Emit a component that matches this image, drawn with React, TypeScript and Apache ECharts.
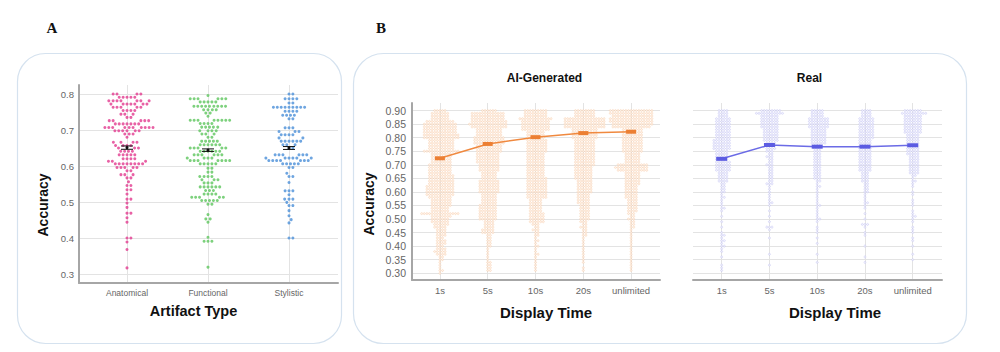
import React, { useEffect, useRef } from 'react';
import * as echarts from 'echarts';

// ---------- Panel A data: [accuracy, number of participants at that accuracy] ----------
const CATS_A = ['Anatomical', 'Functional', 'Stylistic'];
const ANATOMICAL = [
  [0.800, 4], [0.791, 5], [0.781, 7], [0.772, 7], [0.763, 5], [0.754, 4], [0.744, 3], [0.735, 2],
  [0.726, 5], [0.717, 7], [0.707, 10], [0.698, 6], [0.689, 3], [0.680, 1], [0.666, 4], [0.657, 4],
  [0.650, 3], [0.641, 4], [0.631, 5], [0.620, 4], [0.613, 3], [0.606, 8], [0.596, 5], [0.587, 2],
  [0.576, 3], [0.567, 2], [0.556, 1], [0.546, 2], [0.534, 2], [0.522, 1], [0.508, 2], [0.497, 1],
  [0.485, 1], [0.469, 2], [0.456, 1], [0.444, 1], [0.400, 2], [0.389, 1], [0.368, 1], [0.317, 1],
];
const FUNCTIONAL = [
  [0.796, 1], [0.787, 6], [0.778, 5], [0.766, 9], [0.756, 4], [0.747, 2], [0.738, 1], [0.727, 8],
  [0.718, 4], [0.708, 5], [0.698, 4], [0.689, 3], [0.680, 2], [0.669, 5], [0.659, 6], [0.650, 5],
  [0.641, 6], [0.631, 6], [0.622, 4], [0.615, 7], [0.606, 5], [0.594, 2], [0.583, 2], [0.571, 4],
  [0.562, 3], [0.553, 3], [0.542, 6], [0.532, 3], [0.522, 4], [0.513, 5], [0.504, 5], [0.494, 2],
  [0.465, 1], [0.453, 2], [0.444, 1], [0.402, 1], [0.391, 3], [0.319, 1],
];
const STYLISTIC = [
  [0.800, 2], [0.787, 4], [0.775, 2], [0.763, 9], [0.752, 4], [0.741, 4], [0.731, 2], [0.706, 3],
  [0.696, 3], [0.687, 4], [0.678, 2], [0.669, 6], [0.659, 3], [0.650, 2], [0.631, 6], [0.622, 6],
  [0.615, 7], [0.606, 5], [0.596, 2], [0.580, 1], [0.571, 2], [0.554, 1], [0.531, 3], [0.520, 1],
  [0.508, 3], [0.499, 1], [0.490, 2], [0.476, 1], [0.462, 1], [0.451, 1], [0.442, 1], [0.400, 2],
];
const MEANS_A = [0.651, 0.644, 0.650];
const SE_A = [0.0046, 0.0035, 0.004];
const COLORS_A = ['#e23a8e', '#5cc65c', '#4a8ed8'];

// ---------- Panel B data: participant counts per accuracy level ----------
const TIMES = ['1s', '5s', '10s', '20s', 'unlimited'];
const LEVELS_B = [
  0.90, 0.89, 0.88, 0.87, 0.86, 0.85, 0.84, 0.83, 0.82, 0.81,
  0.80, 0.79, 0.78, 0.77, 0.76, 0.75, 0.74, 0.73, 0.72, 0.71,
  0.70, 0.69, 0.68, 0.67, 0.66, 0.65, 0.64, 0.63, 0.62, 0.61,
  0.60, 0.59, 0.58, 0.57, 0.56, 0.55, 0.54, 0.53, 0.52, 0.51,
  0.50, 0.49, 0.48, 0.47, 0.46, 0.45, 0.44, 0.43, 0.42, 0.41,
  0.40, 0.39, 0.38, 0.37, 0.36, 0.35, 0.34, 0.33, 0.32, 0.31,
  0.30,
];
const AI_1S = [
  5, 7, 7, 7, 11, 13, 13, 13, 13, 14,
  14, 10, 10, 10, 10, 14, 8, 8, 8, 8,
  9, 9, 9, 9, 10, 10, 10, 10, 11, 11,
  11, 11, 9, 8, 8, 8, 7, 7, 15, 8,
  7, 7, 6, 5, 4, 4, 4, 3, 4, 4,
  3, 4, 5, 4, 2, 2, 1, 1, 1, 2,
  1,
];
const AI_5S = [
  6, 13, 13, 13, 14, 15, 14, 10, 10, 10,
  12, 12, 12, 10, 10, 10, 9, 9, 9, 9,
  8, 8, 8, 6, 6, 6, 8, 8, 8, 8,
  8, 6, 6, 6, 6, 7, 7, 7, 7, 7,
  7, 4, 4, 4, 5, 5, 2, 2, 2, 2,
  2, 1, 1, 1, 1, 1, 2, 2, 2, 2,
  0,
];
const AI_10S = [
  9, 9, 9, 13, 11, 11, 11, 11, 7, 7,
  7, 8, 8, 8, 8, 8, 7, 7, 7, 7,
  7, 7, 7, 7, 7, 8, 8, 8, 8, 8,
  8, 8, 8, 5, 5, 5, 5, 5, 6, 6,
  6, 6, 3, 2, 3, 2, 2, 1, 2, 1,
  2, 1, 1, 2, 1, 1, 1, 1, 1, 1,
  0,
];
const AI_20S = [
  8, 8, 8, 16, 16, 16, 16, 10, 10, 10,
  10, 8, 8, 8, 8, 8, 8, 8, 8, 8,
  8, 7, 7, 7, 7, 7, 6, 6, 6, 6,
  6, 5, 5, 5, 5, 4, 4, 4, 4, 4,
  4, 3, 2, 3, 2, 2, 2, 1, 1, 1,
  1, 1, 1, 1, 1, 1, 1, 0, 1, 1,
  0,
];
const AI_UNL = [
  17, 17, 16, 17, 17, 16, 15, 8, 8, 8,
  8, 8, 8, 8, 8, 8, 6, 6, 6, 6,
  12, 13, 12, 6, 6, 6, 6, 6, 5, 5,
  5, 5, 5, 4, 4, 4, 4, 4, 3, 2,
  3, 2, 2, 2, 1, 1, 1, 1, 1, 1,
  1, 1, 1, 1, 1, 1, 1, 1, 1, 1,
  0,
];
const REAL_1S = [
  4, 4, 4, 6, 6, 6, 6, 6, 6, 6,
  6, 7, 7, 7, 7, 5, 5, 5, 5, 6,
  6, 6, 6, 4, 4, 4, 4, 2, 2, 2,
  2, 1, 2, 1, 1, 1, 2, 1, 0, 1,
  0, 1, 0, 1, 0, 1, 2, 1, 2, 1,
  2, 1, 1, 0, 1, 0, 0, 1, 1, 1,
  0,
];
const REAL_5S = [
  8, 11, 7, 7, 7, 7, 7, 6, 6, 6,
  6, 6, 4, 4, 4, 3, 2, 3, 2, 2,
  3, 2, 2, 2, 2, 2, 2, 3, 1, 1,
  1, 1, 1, 1, 2, 1, 0, 1, 0, 1,
  0, 1, 0, 3, 1, 0, 0, 1, 0, 0,
  0, 0, 0, 1, 0, 0, 0, 1, 0, 0,
  0,
];
const REAL_10S = [
  5, 5, 5, 8, 8, 8, 8, 6, 6, 6,
  6, 6, 6, 3, 3, 3, 3, 3, 3, 3,
  3, 3, 3, 3, 3, 3, 2, 1, 2, 1,
  1, 1, 1, 1, 1, 2, 1, 1, 1, 1,
  2, 1, 0, 1, 1, 1, 0, 1, 0, 1,
  0, 0, 0, 1, 0, 0, 1, 0, 0, 0,
  0,
];
const REAL_20S = [
  4, 4, 4, 6, 6, 6, 6, 6, 6, 6,
  6, 5, 5, 5, 5, 5, 5, 5, 5, 5,
  5, 5, 5, 3, 3, 3, 3, 2, 2, 2,
  2, 1, 1, 1, 2, 1, 1, 0, 1, 0,
  1, 0, 3, 1, 0, 1, 1, 0, 0, 0,
  1, 0, 0, 0, 1, 0, 1, 0, 0, 0,
  0,
];
const REAL_UNL = [
  7, 10, 7, 7, 7, 7, 7, 7, 7, 5,
  5, 5, 5, 5, 5, 5, 5, 4, 4, 4,
  4, 4, 4, 4, 2, 1, 2, 1, 1, 0,
  1, 1, 0, 1, 1, 1, 0, 1, 1, 2,
  1, 1, 0, 1, 1, 1, 0, 1, 1, 0,
  1, 0, 0, 1, 0, 1, 0, 0, 0, 0,
  0,
];
const AI_MEANS = [0.724, 0.777, 0.802, 0.817, 0.822];
const REAL_MEANS = [0.722, 0.773, 0.767, 0.767, 0.772];

const AI_COLUMNS = [AI_1S, AI_5S, AI_10S, AI_20S, AI_UNL];
const REAL_COLUMNS = [REAL_1S, REAL_5S, REAL_10S, REAL_20S, REAL_UNL];

// ---------- helpers ----------
function expandPairs(pairs: number[][]): number[] {
  const out: number[] = [];
  for (const [v, c] of pairs) for (let i = 0; i < c; i++) out.push(v);
  return out.sort((a, b) => a - b);
}
function expandCounts(counts: number[]): number[] {
  const out: number[] = [];
  counts.forEach((c, i) => {
    for (let k = 0; k < c; k++) out.push(LEVELS_B[i]);
  });
  return out.sort((a, b) => a - b);
}
// beeswarm layout: horizontal pixel offsets so that markers do not overlap
function swarmOffsets(vals: number[], pxPerUnit: number, d: number): number[] {
  const placed: { x: number; y: number }[] = [];
  const offs: number[] = [];
  for (const v of vals) {
    const y = v * pxPerUnit;
    const neigh = placed.filter((p) => Math.abs(p.y - y) < d);
    const cands = [0];
    for (const p of neigh) {
      const dy = y - p.y;
      const dx = Math.sqrt(Math.max(0, d * d - dy * dy));
      cands.push(p.x + dx, p.x - dx);
    }
    cands.sort((a, b) => Math.abs(a) - Math.abs(b) || b - a);
    let chosen = 0;
    for (const c of cands) {
      let ok = true;
      for (const p of neigh) {
        if ((p.x - c) * (p.x - c) + (p.y - y) * (p.y - y) < d * d - 1e-6) {
          ok = false;
          break;
        }
      }
      if (ok) {
        chosen = c;
        break;
      }
    }
    placed.push({ x: chosen, y });
    offs.push(chosen);
  }
  return offs;
}
function swarmData(cat: number, vals: number[], pxPerUnit: number, d: number) {
  const offs = swarmOffsets(vals, pxPerUnit, d);
  return vals.map((v, i) => ({ value: [cat, v], symbolOffset: [offs[i], 0] }));
}

const FONT = "'Liberation Sans', Arial, Helvetica, sans-serif";
const AX = '#a6a6a6';
const GRID_C = '#e3e3e3';

const A_MIN = 0.275, A_MAX = 0.825, A_H = 198;
const B_MIN = 0.275, B_MAX = 0.928, B_H = 177;

function frameX(grid: number) {
  return {
    gridIndex: grid, type: 'value', min: 0, max: 1,
    axisLine: { show: true, onZero: false, lineStyle: { color: AX, width: 2 } },
    axisTick: { show: false }, axisLabel: { show: false }, splitLine: { show: false },
  };
}
function dataX(grid: number, cats: string[], fontSize: number) {
  return {
    gridIndex: grid, type: 'category', data: cats, boundaryGap: true,
    axisLine: { show: false }, axisTick: { show: false },
    axisLabel: { color: '#666', fontSize, fontFamily: FONT, margin: 5, interval: 0, hideOverlap: false },
    splitLine: { show: true, interval: 0, alignWithLabel: true, lineStyle: { color: GRID_C, width: 1 } },
  };
}

export default function App() {
  const ref = useRef<HTMLDivElement>(null);
  useEffect(() => {
    if (!ref.current) return;
    const chart = echarts.init(ref.current, undefined, { renderer: 'svg' });

    const series: any[] = [];
    [ANATOMICAL, FUNCTIONAL, STYLISTIC].forEach((pairs, i) => {
      series.push({
        type: 'scatter', xAxisIndex: 1, yAxisIndex: 1, symbol: 'circle', symbolSize: 3,
        large: false, silent: true,
        itemStyle: { color: COLORS_A[i] },
        data: swarmData(i, expandPairs(pairs), A_H / (A_MAX - A_MIN), 3.9),
      });
    });
    series.push({
      type: 'custom', xAxisIndex: 1, yAxisIndex: 1, silent: true, z: 10,
      data: MEANS_A.map((m, i) => [i, m, SE_A[i]]),
      renderItem: (_p: any, api: any) => {
        const x = api.value(0), m = api.value(1), se = api.value(2);
        const c = api.coord([x, m]);
        const t = api.coord([x, m + se]);
        const b = api.coord([x, m - se]);
        const st = { stroke: '#111', lineWidth: 1 };
        return {
          type: 'group',
          children: [
            { type: 'line', shape: { x1: c[0] - 6, y1: t[1], x2: c[0] + 6, y2: t[1] }, style: st },
            { type: 'line', shape: { x1: c[0] - 6, y1: b[1], x2: c[0] + 6, y2: b[1] }, style: st },
            { type: 'line', shape: { x1: c[0], y1: t[1], x2: c[0], y2: b[1] }, style: st },
            { type: 'circle', shape: { cx: c[0], cy: c[1], r: 1.5 }, style: { fill: '#111' } },
          ],
        };
      },
    });

    const bPx = B_H / (B_MAX - B_MIN);
    AI_COLUMNS.forEach((counts, i) => {
      series.push({
        type: 'scatter', xAxisIndex: 3, yAxisIndex: 3, symbol: 'circle', symbolSize: 2.1,
        large: false, silent: true,
        itemStyle: { color: '#fff1e6', borderColor: '#f6c4a0', borderWidth: 0.5 },
        data: swarmData(i, expandCounts(counts), bPx, 2.6),
      });
    });
    series.push({
      type: 'line', xAxisIndex: 3, yAxisIndex: 3, data: AI_MEANS, silent: true, z: 10,
      symbol: 'rect', symbolSize: [10, 4], showSymbol: true,
      lineStyle: { color: '#f0893f', width: 1.5 }, itemStyle: { color: '#ec7f33' },
    });
    REAL_COLUMNS.forEach((counts, i) => {
      series.push({
        type: 'scatter', xAxisIndex: 5, yAxisIndex: 5, symbol: 'circle', symbolSize: 2.1,
        large: false, silent: true,
        itemStyle: { color: '#f1f1fd', borderColor: '#b9b9f0', borderWidth: 0.5 },
        data: swarmData(i, expandCounts(counts), bPx, 2.6),
      });
    });
    series.push({
      type: 'line', xAxisIndex: 5, yAxisIndex: 5, data: REAL_MEANS, silent: true, z: 10,
      symbol: 'rect', symbolSize: [11, 4], showSymbol: true,
      lineStyle: { color: '#6b6be6', width: 1.5 }, itemStyle: { color: '#5c5ce2' },
    });

    const txt = (x: number, y: number, text: string, size: number, extra: any = {}) => ({
      type: 'text', x, y, silent: true, ...extra,
      style: {
        text, fill: '#111', fontSize: size, fontWeight: 'bold', fontFamily: FONT,
        textAlign: 'center', textVerticalAlign: 'middle', ...(extra.style || {}),
      },
    });

    chart.setOption({
      animation: false,
      backgroundColor: '#ffffff',
      grid: [
        { left: 79, top: 85, width: 259, height: A_H, outerBoundsMode: 'none' },
        { left: 86.5, top: 85, width: 243, height: A_H, outerBoundsMode: 'none' },
        { left: 412, top: 103, width: 248, height: B_H, outerBoundsMode: 'none' },
        { left: 416, top: 103, width: 239, height: B_H, outerBoundsMode: 'none' },
        { left: 693, top: 103, width: 249, height: B_H, outerBoundsMode: 'none' },
        { left: 697.8, top: 103, width: 238.8, height: B_H, outerBoundsMode: 'none' },
      ],
      xAxis: [
        frameX(0), dataX(1, CATS_A, 8.5),
        frameX(2), dataX(3, TIMES, 9.5),
        frameX(4), dataX(5, TIMES, 9.5),
      ],
      yAxis: [
        {
          gridIndex: 0, type: 'value', min: A_MIN, max: A_MAX, minInterval: 0.1, maxInterval: 0.1,
          axisLine: { show: true, onZero: false, lineStyle: { color: AX, width: 2 } },
          axisTick: { show: false },
          axisLabel: {
            color: '#666', fontSize: 9.5, fontFamily: FONT, margin: 5,
            showMinLabel: false, showMaxLabel: false,
            formatter: (v: number) => v.toFixed(1),
          },
          splitLine: { show: true, showMinLine: false, showMaxLine: false, lineStyle: { color: GRID_C } },
        },
        { gridIndex: 1, type: 'value', min: A_MIN, max: A_MAX, show: false },
        {
          gridIndex: 2, type: 'value', min: B_MIN, max: B_MAX, minInterval: 0.05, maxInterval: 0.05,
          axisLine: { show: true, onZero: false, lineStyle: { color: AX, width: 2 } },
          axisTick: { show: false },
          axisLabel: {
            color: '#666', fontSize: 10.5, fontFamily: FONT, margin: 6,
            showMinLabel: false, showMaxLabel: false,
            formatter: (v: number) => v.toFixed(2),
          },
          splitLine: { show: true, showMinLine: false, showMaxLine: false, lineStyle: { color: GRID_C } },
        },
        { gridIndex: 3, type: 'value', min: B_MIN, max: B_MAX, show: false },
        {
          gridIndex: 4, type: 'value', min: B_MIN, max: B_MAX, minInterval: 0.05, maxInterval: 0.05,
          axisLine: { show: false }, axisTick: { show: false }, axisLabel: { show: false },
          splitLine: { show: true, showMinLine: false, showMaxLine: false, lineStyle: { color: GRID_C } },
        },
        { gridIndex: 5, type: 'value', min: B_MIN, max: B_MAX, show: false },
      ],
      graphic: [
        {
          type: 'rect', z: -10, silent: true,
          shape: { x: 17.5, y: 53.5, width: 324, height: 290, r: 28 },
          style: { fill: '#ffffff', stroke: '#d5e2ef', lineWidth: 1.2 },
        },
        {
          type: 'rect', z: -10, silent: true,
          shape: { x: 353.5, y: 53.5, width: 613, height: 290, r: 30 },
          style: { fill: '#ffffff', stroke: '#d5e2ef', lineWidth: 1.2 },
        },
        txt(52, 28, 'A', 15, { style: { fontFamily: "'Liberation Serif', 'Times New Roman', serif" } }),
        txt(381, 28, 'B', 15, { style: { fontFamily: "'Liberation Serif', 'Times New Roman', serif" } }),
        txt(43, 205, 'Accuracy', 14, { rotation: Math.PI / 2 }),
        txt(369, 204, 'Accuracy', 14, { rotation: Math.PI / 2 }),
        txt(193.5, 311, 'Artifact Type', 14.5),
        txt(546, 312, 'Display Time', 15),
        txt(835, 312, 'Display Time', 15),
        txt(544.5, 78, 'AI-Generated', 12),
        txt(809.5, 78, 'Real', 12),
      ],
      series,
    });
    return () => chart.dispose();
  }, []);
  return (
    <div
      ref={ref}
      style={{ position: 'absolute', left: 0, top: 0, width: 1000, height: 352 }}
    />
  );
}
